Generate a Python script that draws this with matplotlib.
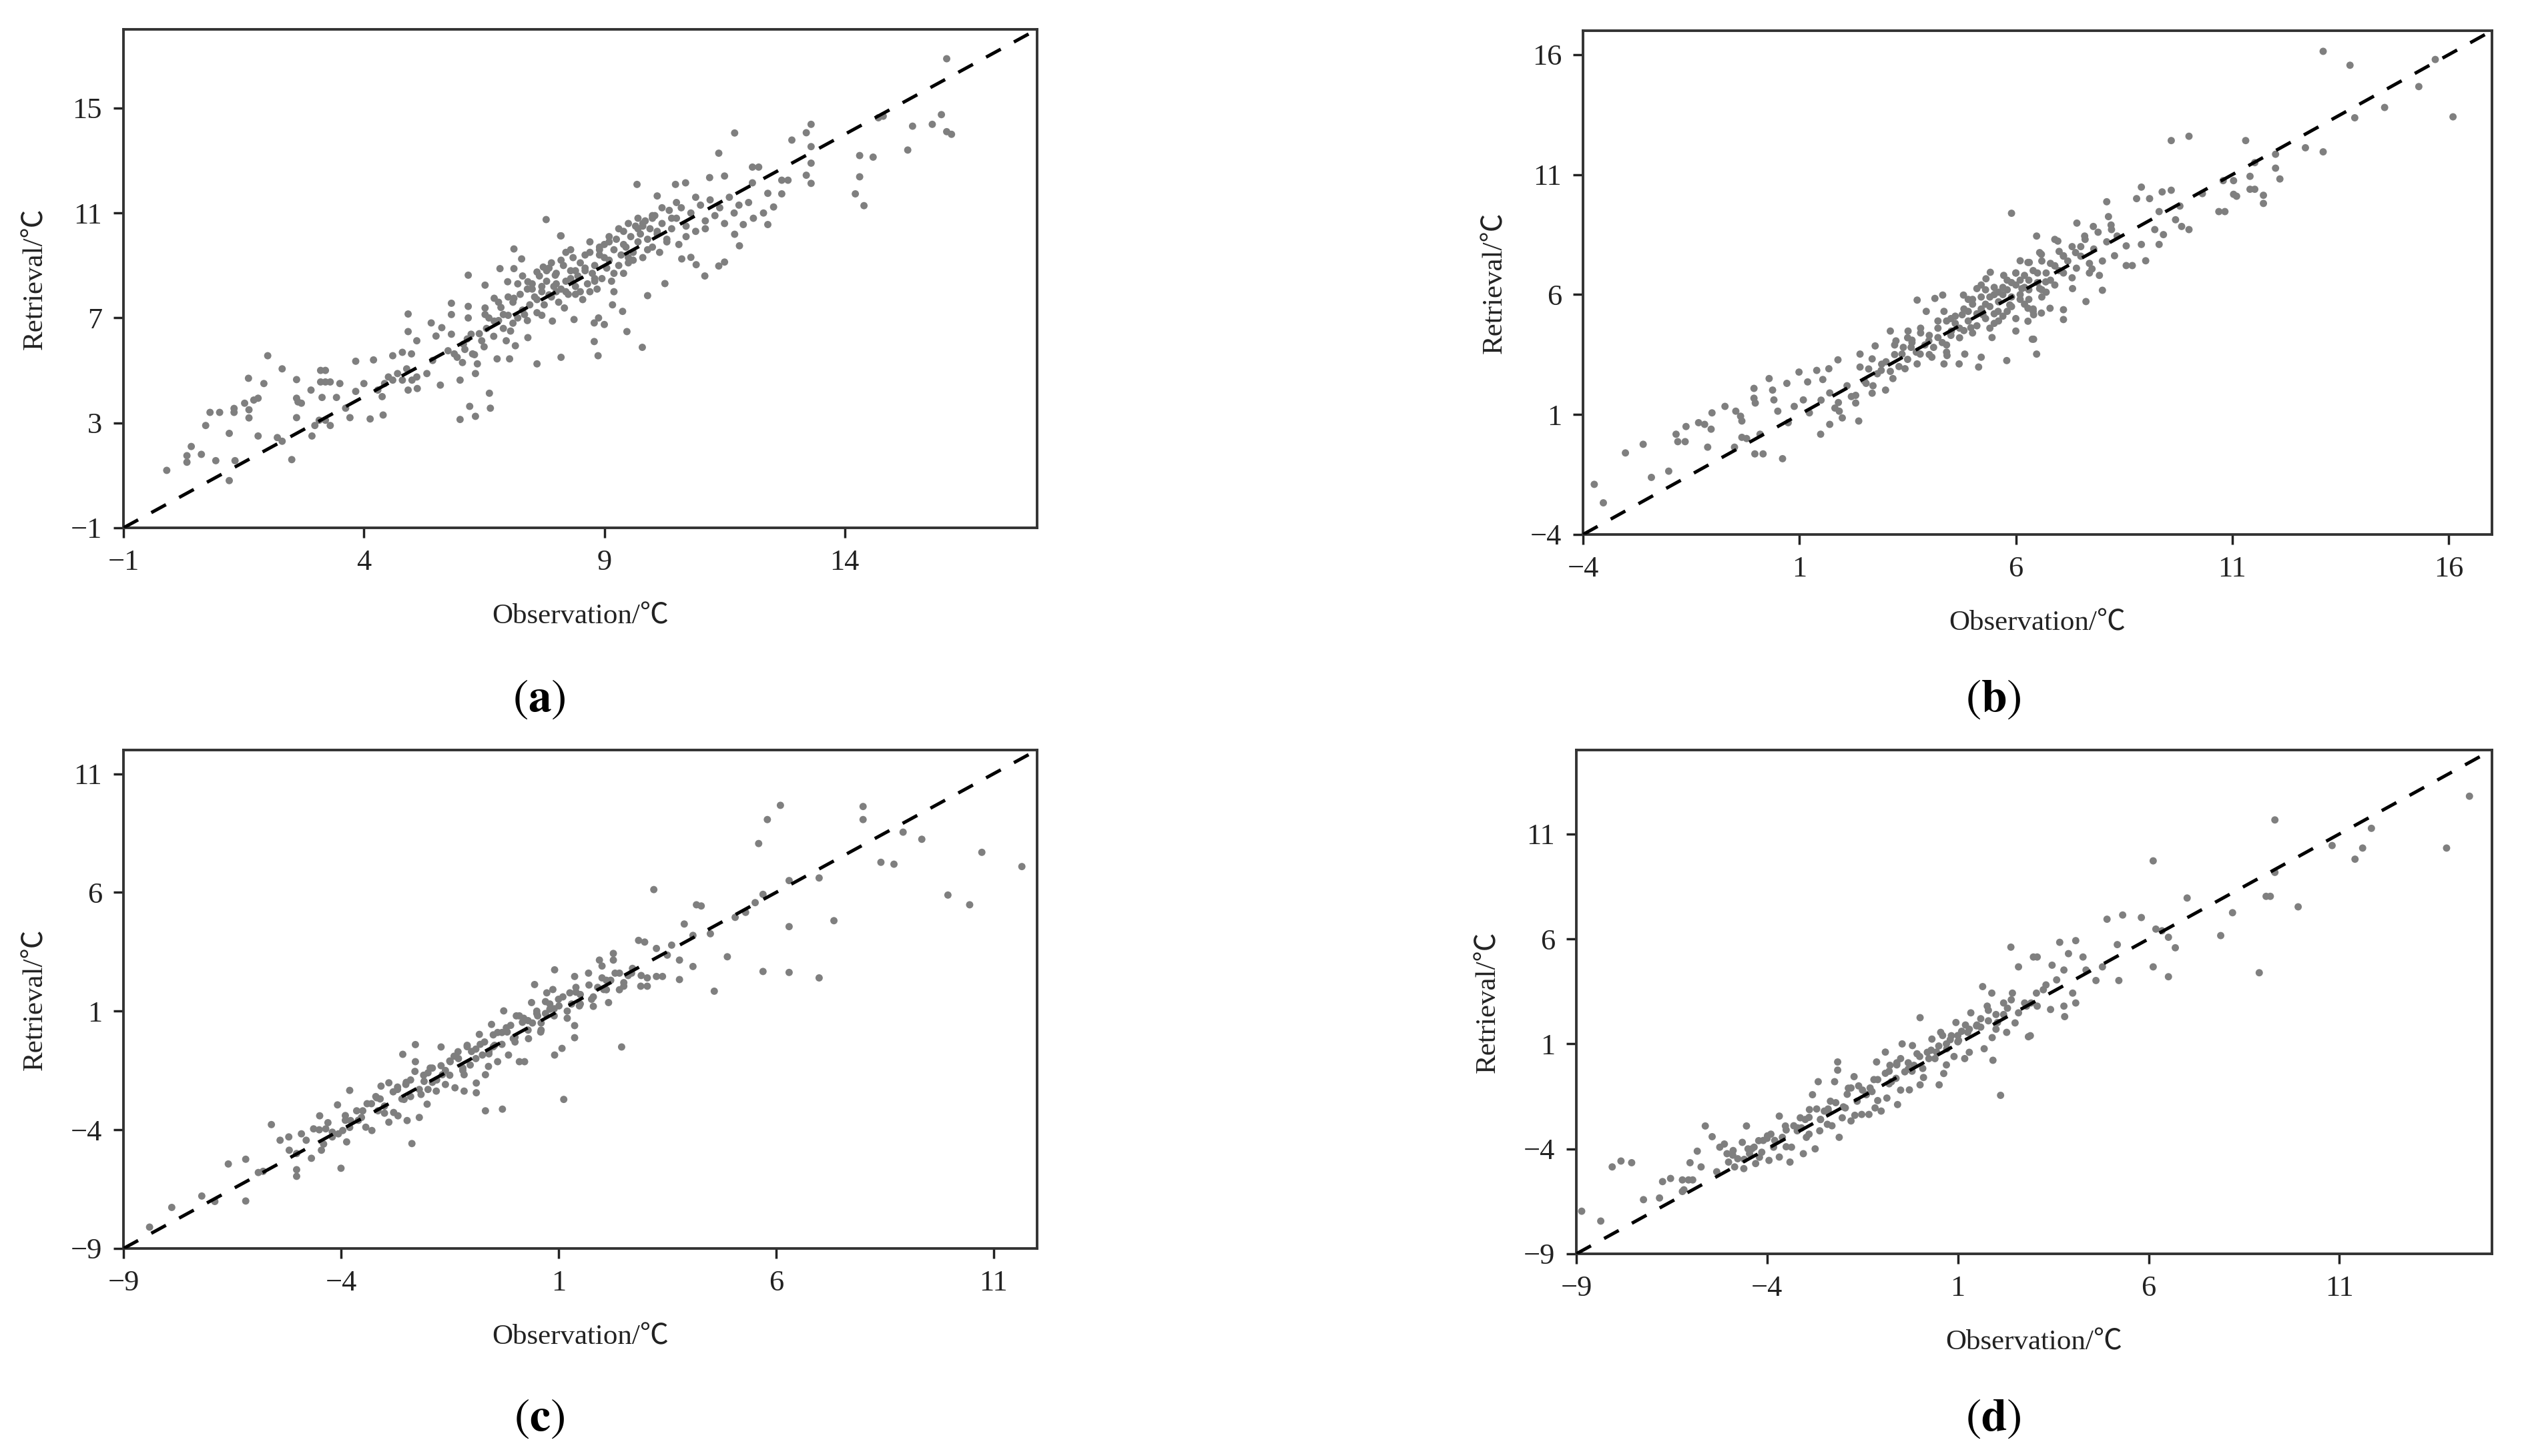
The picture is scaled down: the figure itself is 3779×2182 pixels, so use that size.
import matplotlib
matplotlib.use("Agg")
import matplotlib.pyplot as plt

plt.rcParams['font.family'] = ['Liberation Serif', 'Noto Sans CJK SC']
plt.rcParams['mathtext.fontset'] = 'stix'

# ---- panel (a): observation / retrieval pairs ----
a_obs = [-0.1, 0.32, 0.32, 0.41, 0.62, 0.71, 0.8, 1.0, 0.92, 1.2, 1.2, 1.3, 1.3, 1.32,
         1.52, 1.61, 1.61, 1.71, 1.8, 1.6, 1.8, 1.92, 2.0, 2.2, 2.3, 2.3, 2.5, 2.6, 2.6,
         2.63, 2.7, 2.6, 2.9, 2.92, 2.98, 3.07, 3.2, 3.3, 3.1, 3.2, 3.1, 3.2, 3.3, 3.5,
         3.13, 3.43, 3.62, 3.71, 3.83, 3.83, 4.0, 4.13, 4.2, 4.4,
         4.29, 4.38, 4.43, 4.51, 4.6, 4.6, 4.7, 4.8, 4.8, 4.89, 4.92, 4.92, 4.99, 5.0,
         5.1, 5.11, 5.1, 4.92, 5.31, 5.4, 5.43, 5.5, 5.59, 5.62, 5.75, 5.82, 5.82, 5.82,
         5.88, 5.94, 6.0, 6.0, 6.07, 6.17, 6.17, 6.17, 6.2, 6.23, 6.26, 6.32, 6.32, 6.36,
         6.45, 6.52, 6.52, 6.52, 6.61, 6.63, 6.71, 6.71, 6.77, 6.83, 6.9, 6.96, 6.99,
         7.03, 7.12, 7.12, 7.12, 7.15, 7.28, 7.34, 7.41, 7.41, 7.6, 7.6, 7.73, 7.79,
         7.85, 7.92, 7.98, 8.1, 8.1, 8.17,
         8.09, 8.37, 8.79, 8.79, 8.87, 8.88, 9.0, 9.17, 9.38, 9.47, 9.68, 9.79, 9.9,
         10.1, 10.26, 10.48, 10.69, 10.61, 10.8, 10.91, 11.09, 11.19, 11.38, 11.38, 11.5,
         11.5, 11.71, 11.71, 11.81, 11.89, 12.08, 12.21, 12.08, 12.31, 12.4, 12.4, 12.52,
         12.69, 12.82, 12.69, 12.9, 13.2, 13.3, 13.2, 13.3, 13.3, 13.3, 14.22, 14.31,
         14.31, 14.4, 14.59, 14.7, 14.8, 15.31, 15.41, 15.82, 16.01, 16.12, 16.12, 16.22,
         6.05, 6.1, 6.15, 6.3, 6.4, 6.5, 6.55, 6.6, 6.7, 6.8, 6.85, 6.9, 7.0, 7.05, 7.1,
         7.2, 7.25, 7.3, 7.4, 7.45, 7.5, 7.55, 7.6, 7.65, 7.7, 7.75, 7.8, 7.85, 7.9, 7.95,
         8.0, 8.05, 8.1, 8.15, 8.2, 8.25, 8.3, 8.35, 8.4, 8.45, 8.5, 8.55, 8.6, 8.65, 8.7,
         8.75, 8.8, 8.85, 8.9, 8.95, 9.0, 9.05, 9.1, 9.15, 9.2, 9.25, 9.3, 9.35, 9.4, 9.45,
         9.5, 9.55, 9.6, 9.65, 9.7, 9.75, 9.8, 9.85, 9.9, 9.95, 10.0, 10.05, 10.1, 10.15,
         10.2, 10.3, 10.35, 10.4, 10.5, 10.55, 10.6, 10.7, 10.8, 10.9, 11.0, 11.1, 11.2,
         11.3, 11.4, 11.5, 11.6, 11.7, 11.8, 12.0, 12.1,
         8.3, 8.6, 8.9, 9.2, 9.5, 9.8, 8.0, 8.4, 8.8, 9.1, 9.4, 9.7, 10.0, 7.7, 8.2, 8.7,
         8.1, 8.2, 8.3, 8.4, 8.5, 8.6, 8.7, 8.8, 8.9, 9.0, 9.1, 9.2, 9.3, 9.4, 9.5, 9.6,
         9.7, 9.8, 9.9, 10.0, 10.1, 10.2, 10.3, 10.4, 7.0, 7.2, 7.4, 7.6, 7.8, 8.0, 6.8,
         7.1, 7.3, 7.5, 7.7, 7.9, 10.5, 10.7, 10.9, 11.1]
a_ret = [1.19, 1.75, 1.5, 2.1, 1.8, 2.9, 3.4, 3.4, 1.56, 2.6, 0.8, 3.55, 3.4, 1.56,
         3.75, 3.5, 3.19, 3.87, 3.94, 4.7, 2.5, 4.5, 5.56, 2.44, 2.3, 5.06, 1.6, 4.65, 3.94,
         3.8, 3.75, 3.2, 4.25, 2.5, 2.9, 3.1, 3.1, 2.9, 5.0, 5.0, 4.56, 4.56, 4.56, 4.5,
         3.97, 3.97, 3.56, 3.2, 5.35, 4.2, 4.5, 3.15, 5.4, 3.3,
         4.25, 4.0, 4.5, 4.75, 5.56, 4.63, 4.88, 5.69, 4.63, 5.06, 6.48, 7.15, 5.63, 4.63,
         6.13, 4.31, 4.75, 4.25, 4.88, 6.81, 5.38, 6.31, 4.44, 6.63, 5.75, 7.56, 7.13, 6.38,
         5.63, 5.5, 4.63, 3.13, 6.0, 8.63, 7.44, 7.0, 3.63, 6.38, 5.63, 4.88, 3.25, 5.25,
         6.13, 8.25, 7.38, 7.13, 4.13, 3.56, 7.75, 6.88, 5.44, 8.88, 7.13, 6.13, 8.38,
         5.44, 9.63, 8.88, 7.75, 5.94, 9.25, 7.13, 8.38, 6.25, 8.75, 5.25, 8.94, 10.75,
         7.88, 6.88, 8.63, 10.13, 5.5, 7.38,
         10.13, 6.94, 6.81, 6.1, 5.56, 7.0, 6.75, 7.5, 7.25, 6.48, 12.09, 5.88, 7.85,
         11.65, 8.31, 12.09, 12.15, 9.25, 9.31, 9.03, 8.6, 12.35, 13.28, 8.98, 12.41,
         9.13, 14.05, 10.19, 9.75, 10.56, 12.75, 12.75, 12.15, 11.0, 11.75, 10.56, 11.23,
         12.25, 12.25, 11.73, 13.78, 14.06, 14.38, 12.44, 12.13, 13.53, 12.9, 11.73, 13.19,
         12.38, 11.28, 13.13, 14.63, 14.69, 13.4, 14.31, 14.38, 14.75, 16.88, 14.1, 14.0,
         5.3, 5.8, 6.2, 5.6, 6.4, 5.9, 6.6, 7.0, 6.3, 6.9, 7.4, 6.6, 7.1, 6.5, 7.6,
         7.0, 7.9, 7.3, 8.1, 7.5, 8.3, 7.8, 7.2, 8.6, 8.0, 7.5, 8.4, 8.9, 7.8, 8.2,
         8.7, 7.6, 8.1, 9.0, 8.4, 7.9, 8.8, 9.3, 8.2, 8.6, 9.1, 7.7, 8.9, 8.3, 9.5,
         8.7, 9.0, 8.1, 9.4, 8.5, 9.8, 8.9, 9.2, 8.4, 9.6, 10.0, 9.0, 9.4, 10.3, 9.7,
         9.1, 10.1, 9.5, 10.5, 9.9, 10.2, 9.3, 10.7, 10.0, 10.4, 9.7, 10.9, 10.2, 9.5,
         10.6, 10.0, 11.1, 10.4, 10.8, 9.8, 11.2, 10.5, 11.0, 10.3, 11.3, 10.7, 11.5,
         10.9, 11.2, 10.6, 11.6, 11.0, 11.3, 11.4, 10.8,
         8.5, 8.8, 9.6, 8.0, 9.3, 10.6, 8.3, 7.9, 8.5, 9.9, 8.7, 10.4, 10.8, 8.2, 9.5, 8.0,
         9.2, 8.0, 9.6, 8.8, 8.0, 9.4, 9.9, 8.4, 9.7, 9.3, 10.1, 8.7, 10.4, 9.8, 10.6, 9.2,
         10.8, 10.5, 9.6, 10.9, 10.3, 11.2, 9.9, 10.8, 7.8, 8.3, 6.9, 7.7, 8.8, 8.0, 7.6,
         6.8, 8.6, 8.1, 7.1, 9.1, 11.4, 10.1, 11.6, 10.4]

# ---- panel (b) ----
b_obs = [-3.74, -3.53, -3.02, -2.61, -2.42, -2.02, -1.85, -1.81, -1.64, -1.62, -1.33,
         -1.19, -1.12, -1.04, -1.02, -0.72, -0.47, -0.36, -0.33, -0.33, -0.5, -0.22,
         -0.05, -0.05, -0.02, -0.03, 0.16, 0.09, 0.3, 0.38, 0.41, 0.5, 0.61, 0.71, 0.74,
         0.88, 0.99, 1.09, 1.19, 1.23, 1.4, 1.54, 1.68, 1.49, 1.7, 1.89, 1.82, 1.92, 1.99,
         2.2, 2.3, 2.37, 2.4, 2.4, 2.54, 2.68, 2.75, 2.68, 2.89, 2.99, 3.1, 3.16, 3.23,
         3.37, 3.44, 3.51, 3.58, 3.72, 3.72, 3.79, 3.93, 3.99, 4.06, 4.13, 4.2, 4.31,
         4.34, 4.34, 4.41, 4.51, 4.69, 4.76, 4.79, 4.82, 4.96, 5.1, 5.14, 5.2, 5.24, 5.31,
         5.41, 5.45, 5.59, 5.72, 5.79, 5.86, 5.9, 6.0, 6.1, 6.14, 6.28, 6.31, 6.41, 6.48,
         6.48, 6.55, 6.55,
         6.28, 6.38, 6.59, 6.28, 6.41, 6.59, 6.79, 6.69, 6.9, 6.97, 7.1, 7.1, 7.1, 7.31,
         7.38, 7.41, 7.59, 7.62, 7.76, 7.79, 7.93, 8.0, 8.1, 8.14, 8.21, 8.28, 8.34, 8.55,
         8.55, 8.69, 8.79, 8.9, 8.9, 9.0, 9.09, 9.21, 9.31, 9.31, 9.38, 9.41, 9.59, 9.59,
         9.69, 9.79, 9.83, 10.0, 10.0, 10.31, 10.69, 10.79, 10.83, 11.03, 11.03, 11.1,
         11.31, 11.41, 11.52, 11.41, 11.52, 11.72, 11.72, 12.0, 12.0, 12.1, 12.69, 13.1,
         13.1, 13.72, 13.83, 14.52, 15.31, 15.69, 16.1,
         4.0, 4.1, 4.2, 4.3, 4.4, 4.5, 4.6, 4.7, 4.8, 4.9, 5.0, 5.0, 5.1, 5.2, 5.3, 5.3,
         5.4, 5.5, 5.5, 5.6, 5.7, 5.8, 5.8, 5.9, 6.0, 6.0, 6.1, 6.2, 6.2, 6.3, 6.4, 6.5,
         6.6, 6.7, 6.8, 6.9, 7.0, 7.1, 7.2, 7.3, 7.4, 7.5, 7.6, 7.7, 7.8, 7.9, 8.0, 8.1,
         8.2, 3.0, 3.1, 3.2, 3.3, 3.4, 3.5, 3.6, 3.7, 3.8, 3.9, 2.5, 2.6, 2.7, 2.8, 2.9,
         1.5, 1.7, 1.9, 2.1, 2.3,
         5.6, 5.9, 6.1, 6.3, 5.2, 5.5, 4.6, 4.9, 6.6, 6.9, 5.7, 6.0, 6.4, 5.4, 4.4, 3.6,
         4.5, 4.7, 4.9, 5.1, 5.3, 5.5, 5.7, 5.9, 6.1, 6.3, 6.5, 6.7, 6.9, 7.1, 7.3, 7.5,
         7.7, 4.2, 4.4, 4.8, 5.0, 5.4, 5.6, 6.0, 6.2, 6.6, 6.8, 7.0, 3.5, 3.8, 4.0, 3.2,
         5.2, 5.8, 6.4]
b_ret = [-1.91, -2.68, -0.6, -0.24, -1.62, -1.36, 0.18, -0.13, -0.13, 0.5, 0.66, 0.59,
         -0.36, 0.39, 1.07, 1.34, 1.14, 0.93, 0.73, 0.05, -0.36, 0.0, 2.09, 1.68, 1.48,
         -0.64, -0.64, 0.18, 2.5, 2.02, 1.61, 1.14, -0.84, 2.3, 0.66, 1.34, 2.77, 1.61,
         2.36, 1.07, 2.84, 2.46, 2.91, 0.18, 0.59, 3.28, 1.27, 1.14, 0.86, 1.75, 1.48,
         0.73, 3.52, 2.98, 2.3, 3.32, 3.86, 1.89, 2.84, 2.02, 4.48, 2.5, 4.07, 3.52, 2.91,
         4.48, 3.8, 5.77, 3.11, 3.52, 5.3, 4.07, 3.39, 5.84, 4.21, 5.98, 5.3, 3.11, 3.46,
         4.48, 3.11, 5.16, 5.98, 3.52, 4.62, 6.25, 2.98, 3.39, 5.16, 6.66, 6.93, 4.21,
         5.3, 6.8, 3.25, 5.57, 9.39, 4.48, 7.41, 6.25, 4.89, 7.34, 4.14, 8.44, 3.52, 7.75,
         6.25,
         7.34, 4.14, 7.68, 5.43, 5.16, 5.23, 5.43, 6.53, 8.3, 8.23, 7.62, 5.37, 4.96, 6.25,
         7.75, 8.98, 8.44, 5.71, 7.07, 8.84, 6.8, 6.18, 9.87, 9.25, 8.71, 7.62, 8.44, 8.03,
         7.21, 7.21, 10.0, 10.48, 8.09, 7.41, 10.0, 8.71, 8.09, 9.46, 10.28, 8.5, 12.42,
         10.35, 9.12, 9.69, 8.84, 12.6, 8.71, 10.21, 9.46, 10.75, 9.46, 10.75, 10.18, 10.1,
         12.42, 10.93, 11.5, 10.39, 10.39, 10.14, 9.8, 11.85, 11.27, 10.82, 12.12, 16.14,
         11.95, 15.56, 13.37, 13.8, 14.67, 15.8, 13.41,
         4.3, 3.8, 4.6, 4.0, 4.9, 4.3, 5.1, 4.6, 5.4, 4.9, 5.6, 4.4, 5.2, 5.9, 5.0, 6.2,
         5.5, 6.0, 4.8, 5.7, 6.3, 5.3, 6.6, 5.9, 6.4, 5.0, 6.0, 6.8, 5.6, 6.2, 7.0, 6.5,
         5.9, 6.9, 7.3, 6.4, 7.8, 6.9, 7.4, 8.0, 7.1, 7.6, 8.3, 6.9, 7.9, 8.6, 7.4, 8.2,
         8.9, 3.2, 2.8, 3.5, 3.0, 3.8, 3.3, 4.1, 3.6, 4.4, 3.9, 2.4, 2.9, 2.2, 2.7, 3.1,
         1.6, 1.9, 1.5, 2.2, 1.8,
         6.1, 6.5, 5.8, 6.6, 5.4, 6.3, 4.8, 5.8, 6.2, 7.2, 5.1, 6.9, 5.4, 4.6, 3.6, 4.0,
         5.0, 4.2, 5.3, 4.7, 5.6, 5.2, 6.0, 5.5, 6.6, 5.8, 6.9, 6.1, 7.2, 7.6, 6.7, 8.0,
         7.3, 4.9, 3.9, 4.5, 5.8, 5.9, 4.9, 6.9, 6.3, 7.4, 6.6, 7.0, 4.2, 4.6, 3.5, 3.9,
         6.4, 6.2, 5.3]

# ---- panel (c) ----
c_obs = [-8.4, -7.89, -7.2, -6.9, -6.59, -6.19, -6.19, -5.9, -5.79, -5.6, -5.4, -5.2,
         -5.19, -5.02, -5.02, -5.02, -4.91, -4.8, -4.68, -4.63, -4.49, -4.45, -4.35, -4.2,
         -4.06, -3.96, -3.87, -4.08, -4.0, -3.8, -3.78, -3.64, -3.53, -3.43, -3.29, -3.18,
         -3.15, -3.08, -2.9, -2.9, -2.79, -2.69, -2.58, -2.55, -2.51, -2.48, -2.37, -2.3,
         -2.29, -2.29, -2.2, -2.16, -2.09, -2.02, -1.95, -1.81, -1.7, -1.67, -1.6, -1.49,
         -1.38, -1.31, -1.17, -1.17, -1.1, -1.03, -0.89, -0.89, -0.82, -0.75, -0.68, -0.68,
         -0.61, -0.54, -0.47, -0.4, -0.29, -0.26, -0.18, -0.15, -0.04, 0.03, 0.1, 0.17,
         0.22, 0.31, 0.38, 0.45, 0.52, 0.59, 0.73, 0.8, 0.87, 0.91, 0.91, 1.01, 1.08, 1.12,
         1.37, 1.37, 1.37, 1.26, 1.48, 1.69, 1.76, 1.94, 2.04, 2.15, 2.26, 2.26, 2.4, 2.45,
         2.5, 2.68, 2.84, 2.89, 2.98, 3.04, 3.04, 3.19, 3.25, 3.25, 3.39, 3.5, 3.6, 3.78,
         3.78, 3.89, 4.09, 4.09, 4.17, 4.28, 4.49, 4.58, 4.88, 5.06, 5.3, 5.52, 5.6, 5.7,
         5.7, 5.8, 6.1, 6.3, 6.3, 6.3, 6.99, 6.99, 7.33, 8.0, 8.0, 8.41, 8.71, 8.92, 9.35,
         9.95, 10.45, 10.73, 11.65,
         -3.5, -3.2, -3.0, -2.8, -2.6, -2.4, -2.2, -2.0, -1.9, -1.7, -1.5, -1.4, -1.2,
         -1.0, -0.9, -0.7, -0.6, -0.4, -0.3, -0.1, 0.0, 0.2, 0.3, 0.5, 0.6, 0.8, 0.9, 1.1,
         1.2, 1.4, 1.5, 1.7, 1.8, 2.0, 2.1, 2.3, 2.5, 2.7, 2.9, 1.3, 0.4, -0.5, -1.6, -2.7,
         -4.3, -3.9, -3.4, -1.3, -0.8, 0.7, 1.9, 2.2, 1.0, -0.2,
         -4.5, -4.2, -3.9, -3.6, -3.3, -3.0, -2.7, -2.4, -2.1, -1.8, -1.5, -1.2, -0.9,
         -0.6, -0.3, 0.0, 0.3, 0.6, 0.9, 1.2, 1.5, 1.8, 2.1, 2.4, -3.8, -3.1, -2.5, -1.9,
         -1.1, -0.5, 0.1, 0.7, 1.4, 2.0, 2.6, -4.4, -2.0, 0.5]
c_ret = [-8.1, -7.27, -6.79, -7.02, -5.44, -5.24, -7.0, -5.8, -5.75, -3.78, -4.44, -4.3,
         -4.86, -5.0, -5.68, -5.96, -4.17, -4.44, -5.2, -3.96, -3.41, -4.86, -3.96, -4.1,
         -4.17, -4.03, -4.51, -2.95, -5.62, -2.34, -3.61, -3.2, -3.48, -3.89, -4.03, -2.65,
         -3.2, -2.16, -2.02, -3.68, -3.27, -3.41, -0.82, -2.72, -2.09, -3.61, -4.58, -1.54,
         -0.41, -1.13, -3.48, -2.51, -1.96, -2.92, -1.4, -2.37, -0.51, -1.68, -2.09, -1.13,
         -2.23, -0.71, -1.68, -2.37, -0.44, -1.27, -2.03, -2.44, 0.02, -0.85, -3.2, -1.68,
         -1.33, 0.44, -0.44, -1.13, -3.13, 1.01, 0.12, -0.85, -0.16, 0.8, -1.13, 0.53,
         -1.13, -0.16, 1.36, 2.12, 0.8, 0.12, 1.77, 1.08, 1.91, 2.74, -0.85, 1.22, -0.57,
         -2.72,
         0.39, -0.12, 2.46, 1.77, 1.22, 2.6, 1.5, 3.15, 1.91, 1.36, 3.43, 3.15, 2.6, -0.51,
         2.05, 2.6, 3.98, 2.05, 3.91, 2.4, 2.05, 6.12, 3.64, 2.46, 2.46, 3.36, 3.78, 3.15,
         2.33, 4.67, 4.19, 2.88, 5.48, 5.43, 4.26, 1.84, 3.29, 4.95, 5.16, 5.57, 8.06, 5.92,
         2.67, 9.07, 9.67, 6.5, 4.56, 2.63, 6.61, 2.4, 4.81, 9.62, 9.07, 7.27, 7.19, 8.54,
         8.24, 5.89, 5.48, 7.69, 7.09,
         -3.2, -2.6, -3.0, -2.4, -2.7, -1.9, -2.3, -1.6, -2.0, -1.3, -1.7, -0.9, -1.4,
         -0.7, -1.0, -0.3, -0.7, 0.1, -0.4, 0.4, -0.1, 0.7, 0.2, 1.0, 0.5, 1.3, 0.8, 1.6,
         1.0, 1.8, 1.3, 2.1, 1.6, 2.4, 1.9, 2.6, 2.2, 2.8, 2.5, 1.3, 0.5, -0.5, -1.5, -2.2,
         -3.7, -3.6, -2.9, -1.0, -0.4, 0.9, 2.0, 2.3, 1.5, 0.3,
         -4.0, -4.3, -3.4, -3.6, -2.9, -3.3, -2.3, -2.6, -1.7, -1.9, -1.1, -1.5, -0.6,
         -0.8, 0.1, -0.3, 0.6, 0.2, 1.1, 0.7, 1.7, 1.2, 2.3, 1.9, -3.9, -2.7, -2.0, -1.4,
         -0.5, 0.0, 0.8, 1.4, 2.0, 2.9, 2.5, -4.6, -2.3, 0.9]

# ---- panel (d) ----
d_obs = [-8.86, -8.36, -8.06, -7.83, -7.55, -7.24, -6.82, -6.74, -6.53, -6.22, -6.06,
         -5.95, -6.22, -6.18, -6.02, -5.83, -5.73, -5.62, -5.44, -5.32,
         -5.24, -5.12, -5.05, -5.01, -4.89, -4.85, -4.77, -4.65, -4.61, -4.54, -4.46,
         -4.34, -4.3, -4.22, -4.14, -3.99, -3.95, -3.83, -3.68, -3.68, -3.6, -3.52, -3.4,
         -3.36, -3.21, -3.13, -3.05, -2.97, -2.89, -2.81, -2.74, -2.66, -2.62, -2.5, -2.42,
         -2.34, -2.23, -2.15, -2.15, -2.11, -2.03, -1.95, -1.87, -1.8, -1.72, -1.64, -1.52,
         -1.4, -1.33, -1.25, -1.17, -1.13, -1.01, -0.9, -0.86, -0.78, -0.74, -0.62, -0.58,
         -0.5, -0.46, -0.39, -0.27, -0.19, -0.15, -0.07, 0.01, 0.01, 0.08, 0.24, 0.32,
         0.44, 0.51, 0.55, 0.63, 0.71, 0.83, 0.95, 1.02, 1.18, 1.26, 1.34, 1.49, 1.65,
         1.69, 1.77, 1.89, 1.92, 2.04, 2.12, 2.2, 2.28, 2.39, 2.43, 2.59, 2.59, 2.75, 2.9,
         2.98, 3.06,
         2.85, 2.92, 3.08, 3.08, 3.24, 3.31, 3.43, 3.47, 3.59, 3.67, 3.78, 3.78, 3.8, 3.9,
         4.01, 4.09, 4.09, 4.28, 4.36, 4.62, 4.79, 4.91, 5.18, 5.22, 5.32, 5.81, 6.12, 6.12,
         6.19, 6.35, 6.52, 6.52, 6.7, 7.01, 7.89, 8.2, 8.9, 9.08, 9.19, 9.31, 9.31, 9.92,
         10.81, 11.41, 11.61, 11.84, 13.81, 14.41,
         -4.9, -4.4, -3.9, -3.3, -2.7, -2.2, -1.6, -1.1, -0.6, 0.0, 0.5, 1.0, 1.5, 2.0,
         -4.6, -4.1, -3.5, -2.9, -2.4, -1.9, -1.3, -0.8, -0.3, 0.3, 0.8, 1.3, 1.8, 2.3,
         -1.5, -0.9, 0.2, 0.7, 1.1, -2.6, -3.1, 1.6,
         -4.5, -4.2, -3.8, -3.5, -3.2, -2.9, -2.6, -2.3, -2.0, -1.7, -1.4, -1.1, -0.8,
         -0.5, -0.2, 0.1, 0.4, 0.7, 1.0, 1.3, 1.6, 1.9, 2.2, 2.5, -3.0, -2.4, -1.8, -1.2,
         -0.6, 0.6, 1.2, 1.8, 2.4, 2.8, -4.0, -0.3, 0.9, 2.0]
d_ret = [-6.97, -7.44, -4.86, -4.58, -4.66, -6.42, -6.34, -5.56, -5.41, -5.48, -5.48,
         -5.48, -6.03, -5.95, -4.66, -4.11, -4.86, -2.91, -3.42, -5.09,
         -3.92, -3.77, -4.23, -4.63, -4.08, -4.86, -4.47, -3.69, -4.94, -2.91, -4.23,
         -3.92, -4.7, -3.61, -4.16, -3.38, -4.55, -3.92, -2.44, -4.39, -3.45, -2.91, -4.63,
         -3.92, -3.14, -2.52, -4.23, -3.45, -2.13, -1.42, -4.0, -0.8, -3.14, -2.2, -2.83,
         -1.73, -0.8, 0.14, -0.25, -3.45, -2.52, -2.05, -1.11, -2.67, -0.56, -1.73, -2.36,
         -1.42, -2.36, -1.27, -2.05, 0.14, -2.2, 0.61, -1.58, -0.02, -0.8, -0.64, -1.89,
         0.3, 1.0, -0.33, -1.19, 0.92, -0.02, 0.53, 2.25, -0.95, -0.17, 0.3, 1.23,
         0.61, -0.95, 1.55, -0.41, 0.77, 1.39, 2.02, 1.16, 0.3, 1.55, 2.48, 1.86, 3.73,
         0.77, 2.8, 3.42, 0.22, 2.02, -1.45, 2.95, 1.55, 5.61, 3.42, 4.67, 2.48, 2.95, 1.39,
         5.14, 3.42,
         1.34, 2.95, 5.14, 2.8, 3.58, 3.81, 2.64, 4.75, 4.05, 5.84, 4.52, 2.8, 2.3, 5.3,
         3.42, 5.92, 2.95, 5.14, 4.52, 4.02, 4.67, 6.94, 5.73, 4.02, 7.14, 7.02, 9.72, 4.67,
         6.47, 6.39, 6.08, 4.2, 5.58, 7.95, 6.16, 7.25, 4.39, 8.03, 8.03, 11.67, 9.17, 7.53,
         10.45, 9.8, 10.33, 11.27, 10.33, 12.8,
         -4.3, -4.0, -3.3, -2.9, -2.1, -1.8, -1.0, -0.7, 0.0, 0.4, 0.9, 1.4, 1.9, 2.4,
         -4.5, -3.6, -3.1, -2.5, -2.2, -1.4, -1.1, -0.3, 0.1, 0.7, 1.2, 1.7, 2.1, 2.7,
         -1.2, -0.4, 0.6, 1.0, 1.6, -2.6, -3.0, 2.2,
         -4.0, -4.4, -3.6, -3.9, -3.0, -3.3, -2.6, -2.9, -2.0, -2.4, -1.4, -1.7, -0.9,
         -1.2, -0.3, -0.6, 0.3, 0.0, 1.1, 0.6, 1.8, 1.3, 2.4, 2.0, -2.6, -2.1, -1.1, -0.7,
         0.1, 1.4, 1.9, 2.6, 3.1, 2.8, -3.5, -0.2, 0.4, 1.7]

panels = [
    (a_obs, a_ret, (-1, 18), [-1, 4, 9, 14], [-1, 3, 7, 11, 15], 'a'),
    (b_obs, b_ret, (-4, 17), [-4, 1, 6, 11, 16], [-4, 1, 6, 11, 16], 'b'),
    (c_obs, c_ret, (-9, 12), [-9, -4, 1, 6, 11], [-9, -4, 1, 6, 11], 'c'),
    (d_obs, d_ret, (-9, 15), [-9, -4, 1, 6, 11], [-9, -4, 1, 6, 11], 'd'),
]

W, H = 3780, 2182
fig = plt.figure(figsize=(W / 100, H / 100), dpi=100)

# axes boxes in pixels: left, right, top, bottom
boxes = [(185, 1554, 44, 791), (2372, 3734, 46, 801),
         (185, 1554, 1124, 1871), (2362, 3734, 1124, 1879)]
letter_pos = [(808, 1049), (2987, 1049), (808, 2127), (2987, 2127)]

for (obs, ret, lim, xt, yt, tag), (l, r, t, b), (lx, ly) in zip(panels, boxes, letter_pos):
    ax = fig.add_axes([l / W, 1 - b / H, (r - l) / W, (b - t) / H])
    ax.plot(lim, lim, color='black', lw=3.6, linestyle=(0, (5, 4.5)), zorder=3)
    ax.scatter(obs, ret, s=62, color='#7f7f7f', edgecolors='none', zorder=2)
    ax.set_xlim(lim)
    ax.set_ylim(lim)
    ax.set_xticks(xt)
    ax.set_yticks(yt)
    ax.set_xticklabels([str(v).replace('-', '\u2212') for v in xt])
    ax.set_yticklabels([str(v).replace('-', '\u2212') for v in yt])
    ax.tick_params(direction='out', length=11, width=2.5, labelsize=32,
                   colors='#222222', pad=12)
    for sp in ax.spines.values():
        sp.set_linewidth(2.8)
        sp.set_color('#333333')
    ax.set_xlabel('Observation/\u2103', fontsize=31, labelpad=30, color='#222222')
    ax.set_ylabel('Retrieval/\u2103', fontsize=31, labelpad=24, color='#222222')
    fig.text(lx / W, 1 - ly / H, r'$(\mathbf{%s})$' % tag, fontsize=50,
             ha='center', va='center')

fig.savefig('out.png', dpi=100, facecolor='white')
